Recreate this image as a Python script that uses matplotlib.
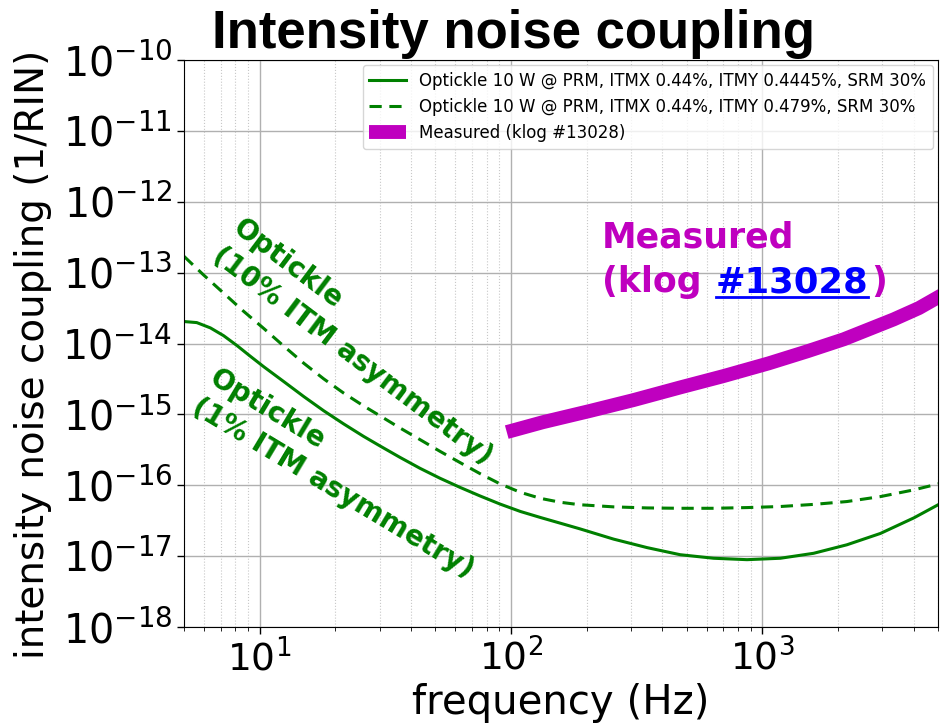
import numpy as np
import matplotlib
matplotlib.use("Agg")
import matplotlib.pyplot as plt
from matplotlib.lines import Line2D

# ---- data (frequency in Hz, coupling in 1/RIN, log10) ----
f_1pct = [5.0, 5.62, 6.37, 7.19, 8.13, 9.18, 10.4, 12.5, 15.0, 18.0, 21.6, 25.9,
          30.1, 36.1, 43.4, 52.1, 62.7, 75.2, 90.4, 109, 131, 157, 188, 256,
          348, 471, 640, 869, 1180, 1600, 2170, 2950, 4010, 5160]
log_1pct = [-13.69, -13.705, -13.78, -13.89, -14.03, -14.18, -14.33, -14.54,
            -14.75, -14.95, -15.135, -15.31, -15.445, -15.605, -15.76, -15.90,
            -16.03, -16.15, -16.265, -16.37, -16.455, -16.535, -16.615, -16.76,
            -16.88, -16.98, -17.03, -17.05, -17.03, -16.96, -16.84, -16.68,
            -16.46, -16.25]

f_10pct = [5.0, 5.97, 7.19, 8.63, 10.4, 12.5, 15.0, 18.0, 21.6, 25.9, 30.1,
           36.1, 43.4, 52.1, 62.7, 75.2, 90.4, 109, 131, 157, 188, 256, 348,
           471, 640, 869, 1180, 1600, 2170, 2950, 4010, 5160]
log_10pct = [-12.77, -13.03, -13.29, -13.545, -13.79, -14.04, -14.28, -14.50,
             -14.70, -14.88, -15.02, -15.19, -15.355, -15.52, -15.68, -15.835,
             -15.98, -16.10, -16.185, -16.24, -16.275, -16.305, -16.32, -16.325,
             -16.325, -16.315, -16.30, -16.27, -16.23, -16.16, -16.065, -15.97]

f_meas = [96.2, 134, 207, 306, 471, 700, 1060, 1510, 2110, 3330, 4200, 5160]
log_meas = [-15.25, -15.11, -14.95, -14.80, -14.62, -14.46, -14.28, -14.11,
            -13.94, -13.66, -13.50, -13.32]

labels = ["Optickle 10 W @ PRM, ITMX 0.44%, ITMY 0.4445%, SRM 30%",
          "Optickle 10 W @ PRM, ITMX 0.44%, ITMY 0.479%, SRM 30%",
          "Measured (klog #13028)"]

x_ticks = [10, 100, 1000]
y_ticks = [1e-18, 1e-17, 1e-16, 1e-15, 1e-14, 1e-13, 1e-12, 1e-11, 1e-10]

# ---- figure ----
W, H = 941, 726
fig = plt.figure(figsize=(W / 100, H / 100), dpi=100)
ax = fig.add_axes([184 / W, 1 - 627 / H, (938 - 184) / W, (627 - 60) / H])

green = "#008000"
magenta = "#bf00bf"

ax.loglog(f_1pct, 10 ** np.array(log_1pct), color=green, lw=2.2, label=labels[0])
ax.loglog(f_10pct, 10 ** np.array(log_10pct), color=green, lw=2.2, ls="--",
          dashes=(4, 2.5), label=labels[1])
ax.loglog(f_meas, 10 ** np.array(log_meas), color=magenta, lw=10,
          solid_capstyle="butt", label=labels[2])

ax.set_xlim(5, 5000)
ax.set_ylim(1e-18, 1e-10)
ax.set_yticks(y_ticks)
ax.set_xticks(x_ticks)
ax.yaxis.set_minor_locator(matplotlib.ticker.NullLocator())

ax.grid(True, which="major", color="#b0b0b0", lw=1.0)
ax.grid(True, which="minor", axis="x", color="#c8c8c8", lw=0.8, ls=":")

ax.tick_params(axis="x", which="major", labelsize=27, length=5, width=1)
ax.tick_params(axis="y", which="major", labelsize=28.5, length=5, width=1)
ax.tick_params(axis="x", which="minor", length=3)

ax.set_xlabel("frequency (Hz)", fontsize=29, labelpad=3)
ax.set_ylabel("intensity noise coupling (1/RIN)", fontsize=28)
ax.yaxis.set_label_coords((52 - 184) / 754, 0.48)

leg = ax.legend(loc="upper right", fontsize=12, framealpha=0.8,
                borderaxespad=0.3, handlelength=2.2)

# title (bold Arial-like)
fig.text(514 / W, 1 - 48 / H, "Intensity noise coupling", ha="center",
         va="baseline", fontsize=38, fontweight="bold", family="Liberation Sans")

# rotated annotations
ax.text(25.7, 10 ** -13.98, "Optickle\n(10% ITM asymmetry)", color=green,
        fontsize=20, fontweight="bold", rotation=-37, rotation_mode="anchor",
        ha="center", va="center", multialignment="left", linespacing=1.3)
ax.text(21.2, 10 ** -15.84, "Optickle\n(1% ITM asymmetry)", color=green,
        fontsize=20, fontweight="bold", rotation=-31, rotation_mode="anchor",
        ha="center", va="center", multialignment="left", linespacing=1.3)

# Measured label with blue underlined link
fs_m = 25
x0 = 602 / W
fig.text(x0, 1 - 248 / H, "Measured", color=magenta, fontsize=fs_m,
         fontweight="bold", va="baseline", ha="left")
y2 = 1 - 292 / H
t1 = fig.text(x0, y2, "(klog", color=magenta, fontsize=fs_m,
              fontweight="bold", va="baseline", ha="left")
fig.canvas.draw()
r = fig.canvas.get_renderer()
bb1 = t1.get_window_extent(r)
gap = 14
t2 = fig.text((bb1.x1 + gap) / W, y2, "#13028", color="#0000ff", fontsize=fs_m + 0.5,
              fontweight="bold", va="baseline", ha="left")
fig.canvas.draw()
bb2 = t2.get_window_extent(r)
fig.text((bb2.x1 + 3) / W, y2, ")", color=magenta, fontsize=fs_m,
         fontweight="bold", va="baseline", ha="left")
yu = y2 - 5 / H
fig.add_artist(Line2D([bb2.x0 / W, bb2.x1 / W], [yu, yu], color="#0000ff",
                      lw=2, transform=fig.transFigure))

fig.savefig("out.png", dpi=100)
